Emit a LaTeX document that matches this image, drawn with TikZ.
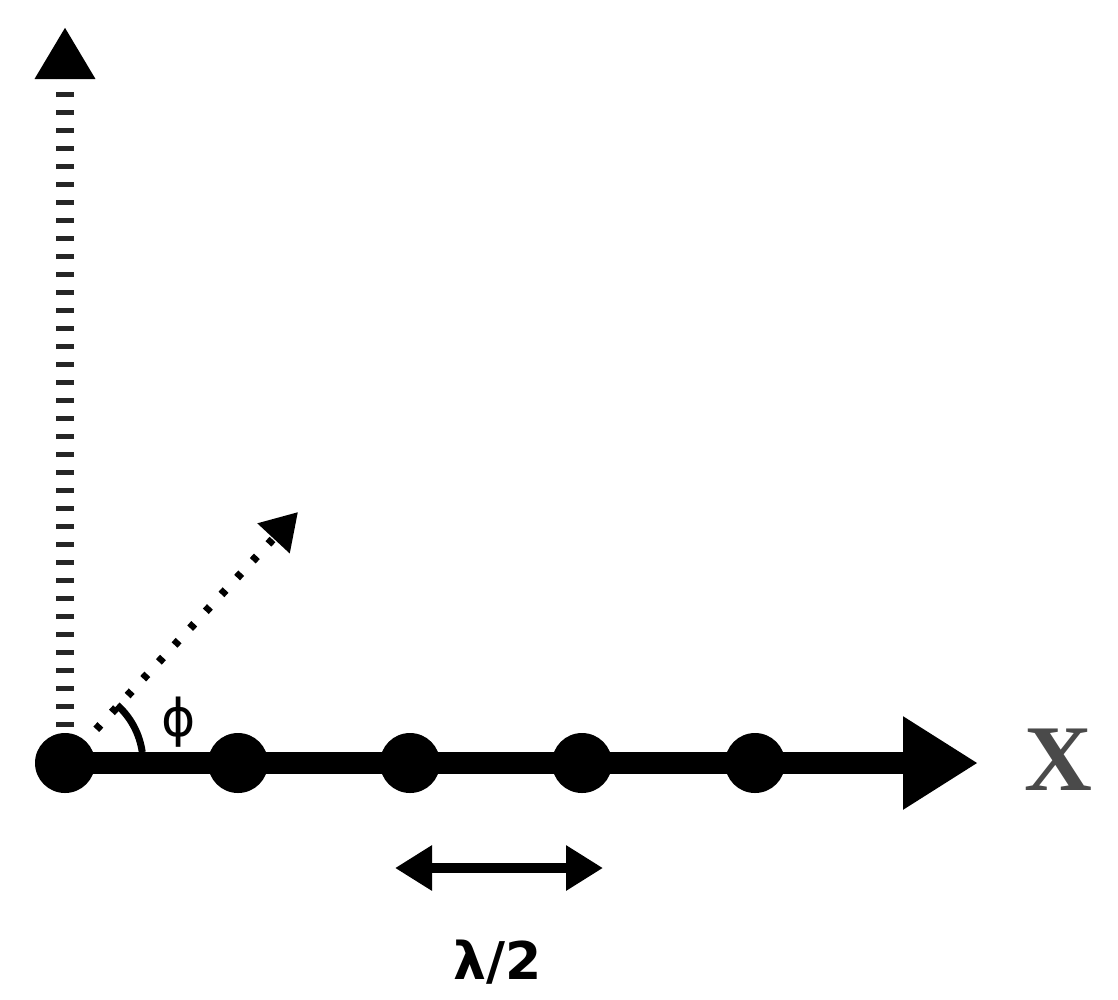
\documentclass[tikz,border=0pt]{standalone}
\usepackage{fontspec}
\newfontfamily\dvfont{DejaVu Sans}
\newfontfamily\tsfont{Liberation Serif}
\usetikzlibrary{arrows.meta}
\definecolor{xgray}{HTML}{4A4A4A}
\tikzset{
  dotnode/.style={circle,fill=black,inner sep=0pt,minimum size=60pt},
  mainaxis/.style={line width=22pt,-{Triangle[length=75pt,width=88pt]}},
  vaxis/.style={line width=18pt,black!85,dash pattern=on 5pt off 13pt,-{Triangle[length=52pt,width=57pt,fill=black,color=black]}},
  daxis/.style={line width=8pt,dash pattern=on 6pt off 17pt,-{Triangle[length=36pt,width=42pt]}},
  span/.style={line width=10pt,{Triangle[length=37pt,width=43pt]}-{Triangle[length=37pt,width=43pt]}},
  lbl/.style={inner sep=0pt}
}
\begin{document}
\begin{tikzpicture}[x=1pt,y=-1pt]
\useasboundingbox (0,0) rectangle (1118,999);
\coordinate (c1) at (65,763);
\coordinate (c2) at (238,763);
\coordinate (c3) at (410,763);
\coordinate (c4) at (582,763);
\coordinate (c5) at (755,763);
\coordinate (xtip) at (978,763);
\coordinate (ytip) at (65,27);
\coordinate (dtip) at (298,512);
\coordinate (sa) at (395,868);
\coordinate (sb) at (603,868);
\draw[vaxis] (c1) -- (ytip);
\draw[daxis] (c1) -- (dtip);
\draw[mainaxis] (c1) -- (xtip);
\draw[line width=7pt] (c1) ++(-48:78) arc[start angle=-48,end angle=-8,radius=78];
\foreach \i in {1,...,5} \node[dotnode] (d\i) at (c\i) {};
\draw[span] (sa) -- (sb);
\node[lbl,font=\tsfont\bfseries\fontsize{94}{100}\selectfont,text=xgray] (xl) at (1058,760) {X};
\node[lbl,font=\dvfont\fontsize{52}{58}\selectfont] (phi) at (179,722) {ϕ};
\node[lbl,font=\dvfont\bfseries\fontsize{52}{58}\selectfont] (lam) at (498,962) {λ/2};
\end{tikzpicture}
\end{document}
